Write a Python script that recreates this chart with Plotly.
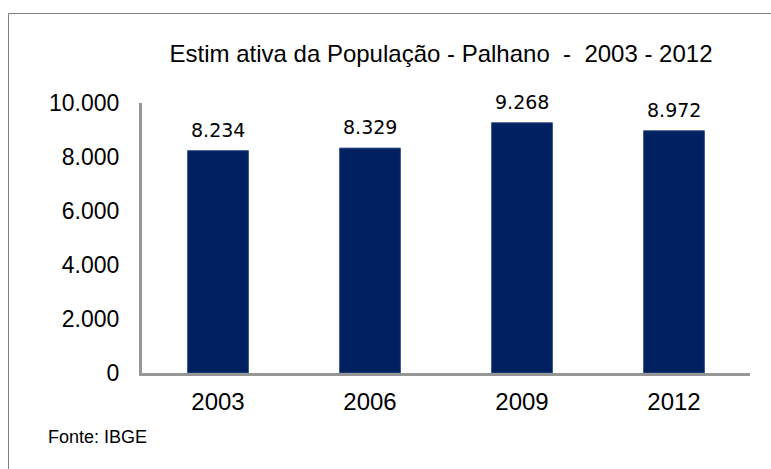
import plotly.graph_objects as go

years = ["2003", "2006", "2009", "2012"]
population = [8234, 8329, 9268, 8972]
y_ticks = [0, 2000, 4000, 6000, 8000, 10000]

title_text = "Estim ativa da População - Palhano\u00a0 -\u00a0 2003 - 2012"
source_text = "Fonte: IBGE"

W, H = 771, 469
L, R, T, B = 142, 21, 103, 96
pw, ph = W - L - R, H - T - B

def px_x(px):
    return (px - L) / pw

def px_y(py):
    return (H - B - py) / ph

fig = go.Figure()
fig.add_trace(go.Bar(
    x=years, y=population,
    marker=dict(color="#002060", line=dict(color="#34528a", width=1)),
    hoverinfo="x+y",
))

for i, v in enumerate(population):
    fig.add_annotation(
        x=i, y=v, xref="x", yref="y",
        text=f"{v:,}".replace(",", "."),
        showarrow=False, yanchor="middle", yshift=21,
        font=dict(family="DejaVu Sans", size=19, color="#000000"),
    )

fig.add_annotation(
    x=px_x(46), y=px_y(437), xref="paper", yref="paper",
    text=source_text, showarrow=False, xanchor="left", yanchor="middle",
    font=dict(family="Liberation Sans, Arial", size=18, color="#000000"),
)

fig.add_shape(
    type="rect", xref="paper", yref="paper",
    x0=px_x(8.5), x1=px_x(W + 10), y0=px_y(H + 10), y1=px_y(13.5),
    line=dict(color="#808080", width=1), fillcolor="rgba(0,0,0,0)", layer="above",
)

fig.update_layout(
    width=W, height=H,
    margin=dict(l=L, r=R, t=T, b=B, pad=0),
    paper_bgcolor="white", plot_bgcolor="white",
    separators=",.",
    bargap=0.6,
    showlegend=False,
    title=dict(
        text=title_text, x=px_x(441), xref="paper", xanchor="center",
        y=1 - 54 / H, yref="container", yanchor="middle",
        font=dict(family="Liberation Sans, Arial", size=24, color="#000000"),
    ),
    xaxis=dict(
        type="category", range=[-0.5, len(years) - 0.5],
        showline=True, linecolor="#969696", linewidth=3,
        showgrid=False, zeroline=False, ticks="",
        ticklabelstandoff=5,
        tickfont=dict(family="Liberation Sans, Arial", size=24, color="#000000"),
    ),
    yaxis=dict(
        range=[0, 10000], tickvals=y_ticks, tickformat=",d",
        showline=True, linecolor="#969696", linewidth=3,
        showgrid=False, zeroline=False, ticks="",
        ticklabelstandoff=15,
        tickfont=dict(family="Liberation Sans, Arial", size=23, color="#000000"),
    ),
)

fig.write_html("out.html", config={"displayModeBar": False},
               post_script="document.body.style.margin='0px';")
